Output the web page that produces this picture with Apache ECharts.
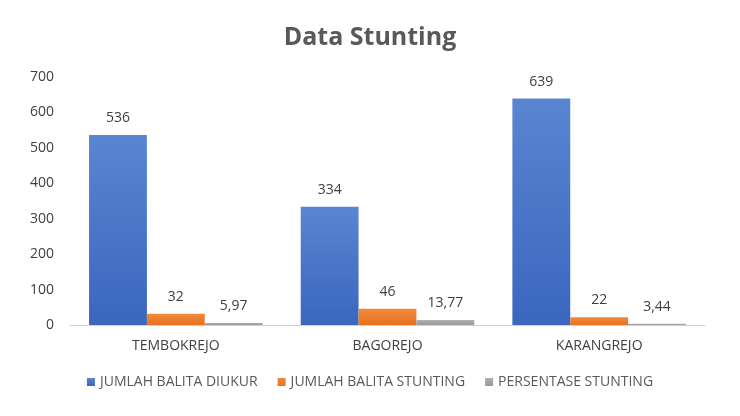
<!DOCTYPE html>
<html>
<head>
<meta charset="utf-8">
<script src="https://cdn.jsdelivr.net/npm/echarts@6/dist/echarts.min.js"></script>
<style>html,body{margin:0;background:#fff}#chart{width:740px;height:416px}</style>
</head>
<body>
<div id="chart"></div>
<script>
let categories = ['TEMBOKREJO', 'BAGOREJO', 'KARANGREJO'];
let diukur = [536, 334, 639];
let stunting = [32, 46, 22];
let persentase = [5.97, 13.77, 3.44];

let myChart = echarts.init(document.getElementById('chart'));
let label = {
    show: true,
    position: 'top',
    distance: 10,
    color: '#404040',
    fontSize: 14,
    fontFamily: 'Open Sans',
    formatter: function (p) { return String(p.value).replace('.', ','); }
};
function grad(top, bottom) {
    return new echarts.graphic.LinearGradient(0, 0, 0, 1, [
        {offset: 0, color: top}, {offset: 1, color: bottom}
    ]);
}
function bar(name, data, color, top, bottom) {
    return {name: name, type: 'bar', data: data, barGap: '0%', barCategoryGap: '18%',
        itemStyle: {color: grad(top, bottom)}, label: label, color: color};
}
let option = {
    title: {
        text: 'Data Stunting', left: 'center', top: 20,
        textStyle: {color: '#595959', fontSize: 25, fontWeight: 'bold', fontFamily: 'Open Sans'}
    },
    legend: {
        bottom: 22, itemWidth: 8, itemHeight: 8, itemGap: 20, icon: 'rect',
        textStyle: {color: '#595959', fontSize: 14, fontFamily: 'Open Sans'}
    },
    grid: {left: 70, right: 35, top: 77, bottom: 91},
    xAxis: {
        type: 'category', data: categories,
        axisLine: {lineStyle: {color: '#d0d0d0'}}, axisTick: {show: false},
        axisLabel: {color: '#404040', fontSize: 14, fontFamily: 'Open Sans', margin: 14}
    },
    yAxis: {
        type: 'value', min: 0, max: 700, interval: 100,
        splitLine: {show: false},
        axisLabel: {color: '#404040', fontSize: 14, fontFamily: 'Open Sans', margin: 16}
    },
    series: [
        bar('JUMLAH BALITA DIUKUR', diukur, '#4472C4', '#5A85D2', '#3A66BE'),
        bar('JUMLAH BALITA STUNTING', stunting, '#ED7D31', '#F08A3E', '#E8711E'),
        bar('PERSENTASE STUNTING', persentase, '#A5A5A5', '#B0B0B0', '#999999')
    ]
};
myChart.setOption(option);
</script>
</body>
</html>
